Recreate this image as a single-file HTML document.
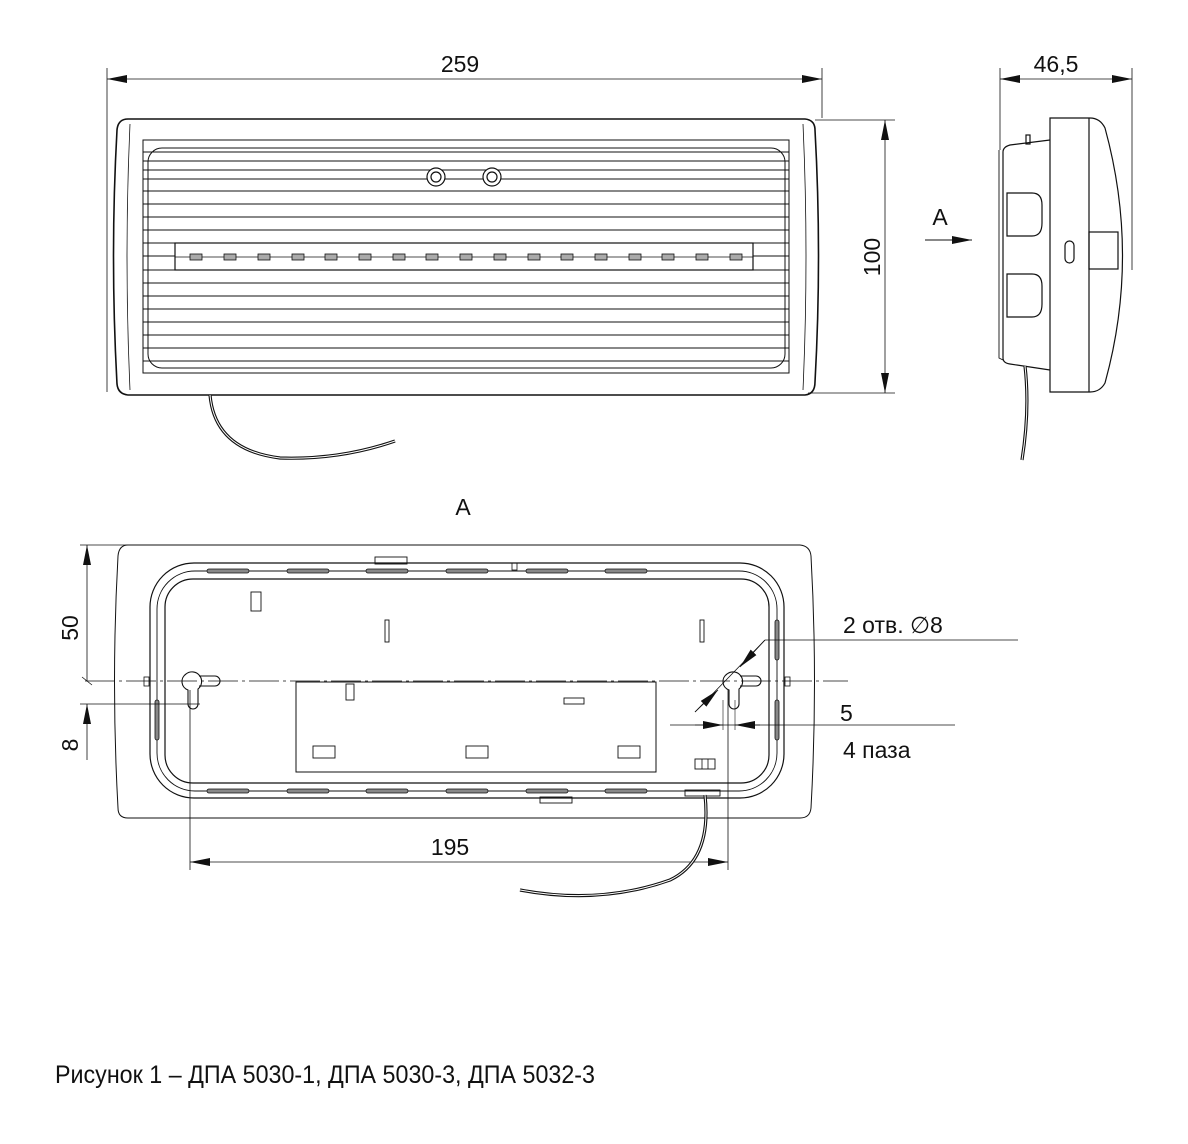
<!DOCTYPE html>
<html><head><meta charset="utf-8"><style>html,body{margin:0;padding:0;background:#fff}svg{display:block}</style></head>
<body>
<svg width="1188" height="1144" viewBox="0 0 1188 1144" xmlns="http://www.w3.org/2000/svg" font-family="Liberation Sans, sans-serif" fill="none" stroke="#111" stroke-width="1.2">
<defs>
<marker id="ar" viewBox="0 0 20 8" refX="20" refY="4" markerWidth="20" markerHeight="8" orient="auto-start-reverse" markerUnits="userSpaceOnUse"><path d="M0,0 L20,4 L0,8z" fill="#111" stroke="none"/></marker>
</defs>
<!-- FRONT VIEW -->
<line x1="107" y1="68" x2="107" y2="392" stroke-width="0.8"/>
<line x1="822" y1="68" x2="822" y2="118" stroke-width="0.8"/>
<line x1="107" y1="79" x2="822" y2="79" stroke-width="0.8" marker-start="url(#ar)" marker-end="url(#ar)"/>
<text x="460" y="72" font-size="23" fill="#111" stroke="none" text-anchor="middle">259</text>
<line x1="815" y1="120" x2="895" y2="120" stroke-width="0.8"/>
<line x1="808" y1="393" x2="895" y2="393" stroke-width="0.8"/>
<line x1="885" y1="120" x2="885" y2="393" stroke-width="0.8" marker-start="url(#ar)" marker-end="url(#ar)"/>
<text x="0" y="0" font-size="23" fill="#111" stroke="none" text-anchor="middle" transform="translate(880,257) rotate(-90)">100</text>
<path d="M128,119 L805,119 Q815,120 815,130 Q822,256 815,382 Q815,394 805,395 L128,395 Q118,394 117,384 Q110,256 117,130 Q118,119 128,119Z" stroke-width="1.6"/>
<path d="M130,124 Q124,256 130,390 M803,124 Q809,256 803,390" stroke-width="0.8"/>
<rect x="143" y="140" width="646" height="233" stroke-width="1"/>
<rect x="148" y="148" width="637" height="220" rx="14" stroke-width="1"/>
<g stroke-width="0.9">
<path d="M143,152H789M143,161H789M143,170H789M143,179H789M143,191H789M143,204H789M143,217H789M143,230H789M143,243H789M143,256H789M143,270H789M143,283H789M143,296H789M143,309H789M143,322H789M143,335H789M143,348H789M143,361H789"/>
</g>
<rect x="175" y="243" width="578" height="27" fill="#fff" stroke-width="1.2"/>
<line x1="175" y1="257" x2="753" y2="257" stroke-width="0.8"/>
<g fill="#aaa" stroke-width="0.8">
<rect x="190" y="254" width="12" height="6"/><rect x="224" y="254" width="12" height="6"/><rect x="258" y="254" width="12" height="6"/><rect x="292" y="254" width="12" height="6"/><rect x="325" y="254" width="12" height="6"/><rect x="359" y="254" width="12" height="6"/><rect x="393" y="254" width="12" height="6"/><rect x="426" y="254" width="12" height="6"/><rect x="460" y="254" width="12" height="6"/><rect x="494" y="254" width="12" height="6"/><rect x="528" y="254" width="12" height="6"/><rect x="561" y="254" width="12" height="6"/><rect x="595" y="254" width="12" height="6"/><rect x="629" y="254" width="12" height="6"/><rect x="662" y="254" width="12" height="6"/><rect x="696" y="254" width="12" height="6"/><rect x="730" y="254" width="12" height="6"/>
</g>
<circle cx="436" cy="177" r="9" fill="#fff"/><circle cx="436" cy="177" r="5"/>
<circle cx="492" cy="177" r="9" fill="#fff"/><circle cx="492" cy="177" r="5"/>
<path d="M210,395 Q215,450 280,458 Q340,460 395,441" stroke-width="3.2"/>
<path d="M210,395 Q215,450 280,458 Q340,460 395,441" stroke="#fff" stroke-width="1"/>
<!-- SIDE VIEW -->
<line x1="1000" y1="68" x2="1000" y2="150" stroke-width="0.8"/>
<line x1="1132" y1="68" x2="1132" y2="270" stroke-width="0.8"/>
<line x1="1000" y1="79" x2="1132" y2="79" stroke-width="0.8" marker-start="url(#ar)" marker-end="url(#ar)"/>
<text x="1056" y="72" font-size="23" fill="#111" stroke="none" text-anchor="middle">46,5</text>
<text x="940" y="225" font-size="23" fill="#111" stroke="none" text-anchor="middle">A</text>
<line x1="925" y1="240" x2="972" y2="240" stroke-width="0.9" marker-end="url(#ar)"/>
<path d="M1050,118 L1090,118 Q1100,118 1105,128 Q1140,256 1105,383 Q1100,392 1090,392 L1050,392Z" stroke-width="1.2"/>
<line x1="1089" y1="118" x2="1089" y2="392"/>
<path d="M1050,140 L1010,145 Q1003,147 1003,152 L1003,358 Q1003,363 1010,364 L1050,370"/>
<path d="M999,150 L999,358 L1003,360" stroke-width="0.9"/>
<rect x="1026" y="135" width="4" height="9"/>
<path d="M1007,193 L1032,193 Q1042,193 1042,205 L1042,223 Q1042,236 1032,236 L1007,236Z"/>
<path d="M1007,274 L1032,274 Q1042,274 1042,286 L1042,304 Q1042,317 1032,317 L1007,317Z"/>
<rect x="1065" y="241" width="9" height="22" rx="4.5"/>
<rect x="1089" y="232" width="29" height="37"/>
<path d="M1025,366 Q1030,410 1022,460" stroke-width="3.2"/>
<path d="M1025,366 Q1030,410 1022,460" stroke="#fff" stroke-width="1"/>
<!-- VIEW A -->
<text x="463" y="515" font-size="23" fill="#111" stroke="none" text-anchor="middle">A</text>
<path d="M128,545 L800,545 Q810,546 811,556 Q818,682 811,808 Q810,818 800,818 L128,818 Q118,818 118,808 Q111,682 118,556 Q119,545 128,545Z" stroke-width="1"/>
<rect x="150" y="563" width="634" height="235" rx="44" stroke-width="1.2"/>
<rect x="157" y="571" width="620" height="220" rx="38" stroke-width="0.9"/>
<rect x="165" y="579" width="604" height="204" rx="28" stroke-width="1.2"/>
<g fill="#888" stroke-width="0.8">
<rect x="207" y="569" width="42" height="4" rx="2"/><rect x="287" y="569" width="42" height="4" rx="2"/><rect x="366" y="569" width="42" height="4" rx="2"/><rect x="446" y="569" width="42" height="4" rx="2"/><rect x="526" y="569" width="42" height="4" rx="2"/><rect x="605" y="569" width="42" height="4" rx="2"/>
<rect x="207" y="789" width="42" height="4" rx="2"/><rect x="287" y="789" width="42" height="4" rx="2"/><rect x="366" y="789" width="42" height="4" rx="2"/><rect x="446" y="789" width="42" height="4" rx="2"/><rect x="526" y="789" width="42" height="4" rx="2"/><rect x="605" y="789" width="42" height="4" rx="2"/>
<rect x="155" y="700" width="4" height="40" rx="2"/><rect x="775" y="620" width="4" height="40" rx="2"/><rect x="775" y="700" width="4" height="40" rx="2"/>
</g>
<rect x="375" y="557" width="32" height="7" stroke-width="0.9"/>
<rect x="512" y="563" width="5" height="7" stroke-width="0.8"/>
<rect x="540" y="797" width="32" height="6" stroke-width="0.9"/>
<rect x="685" y="790" width="35" height="6" stroke-width="0.9"/>
<rect x="144" y="677" width="5" height="9" stroke-width="0.8"/>
<rect x="785" y="677" width="5" height="9" stroke-width="0.8"/>
<rect x="251" y="592" width="10" height="19" stroke-width="0.9"/>
<rect x="385" y="620" width="4" height="22" stroke-width="0.9"/>
<rect x="700" y="620" width="4" height="22" stroke-width="0.9"/>
<rect x="296" y="682" width="360" height="90" fill="#fff" stroke-width="1"/>
<rect x="346" y="684" width="8" height="16" stroke-width="0.9"/>
<rect x="564" y="698" width="20" height="6" stroke-width="0.9"/>
<rect x="313" y="746" width="22" height="12" stroke-width="0.9"/>
<rect x="466" y="746" width="22" height="12" stroke-width="0.9"/>
<rect x="618" y="746" width="22" height="12" stroke-width="0.9"/>
<rect x="695" y="759" width="20" height="10" stroke-width="0.9"/><path d="M702,759V769M708,759V769" stroke-width="0.8"/>
<line x1="85" y1="681" x2="848" y2="681" stroke-width="0.8" stroke-dasharray="30,4,3,4"/>
<path d="M186,674 A9,9 0 1 1 198,689 L198,704 A5,5 0 0 1 188,704 L188,690 A9,9 0 0 1 186,674Z M199,676 L215,676 A5,5 0 0 1 215,686 L199,686" stroke-width="1.1"/>
<path d="M727,674 A9,9 0 1 1 739,689 L739,704 A5,5 0 0 1 729,704 L729,690 A9,9 0 0 1 727,674Z M740,676 L756,676 A5,5 0 0 1 756,686 L740,686" stroke-width="1.1"/>
<line x1="190" y1="690" x2="190" y2="870" stroke-width="0.8"/>
<line x1="728" y1="690" x2="728" y2="870" stroke-width="0.8"/>
<line x1="190" y1="862" x2="728" y2="862" stroke-width="0.8" marker-start="url(#ar)" marker-end="url(#ar)"/>
<text x="450" y="855" font-size="23" fill="#111" stroke="none" text-anchor="middle">195</text>
<line x1="80" y1="545" x2="128" y2="545" stroke-width="0.8"/>
<line x1="80" y1="704" x2="200" y2="704" stroke-width="0.8"/>
<line x1="87" y1="545" x2="87" y2="681" stroke-width="0.8" marker-start="url(#ar)"/>
<line x1="87" y1="760" x2="87" y2="704" stroke-width="0.8" marker-end="url(#ar)"/>
<line x1="82" y1="677" x2="92" y2="685" stroke-width="0.8"/>
<text x="0" y="0" font-size="23" fill="#111" stroke="none" text-anchor="middle" transform="translate(78,628) rotate(-90)">50</text>
<text x="0" y="0" font-size="23" fill="#111" stroke="none" text-anchor="middle" transform="translate(78,745) rotate(-90)">8</text>
<line x1="765" y1="640" x2="1018" y2="640" stroke-width="0.8"/>
<line x1="765" y1="640" x2="695" y2="712" stroke-width="0.8"/>
<line x1="765" y1="640" x2="740" y2="667" stroke-width="0.8" marker-end="url(#ar)"/>
<line x1="695" y1="712" x2="718" y2="690" stroke-width="0.8" marker-end="url(#ar)"/>
<text x="843" y="633" font-size="23" fill="#111" stroke="none">2 отв. ∅8</text>
<line x1="670" y1="725" x2="955" y2="725" stroke-width="0.8"/>
<line x1="695" y1="725" x2="723" y2="725" stroke-width="0.8" marker-end="url(#ar)"/>
<line x1="760" y1="725" x2="735" y2="725" stroke-width="0.8" marker-end="url(#ar)"/>
<line x1="723" y1="700" x2="723" y2="730" stroke-width="0.6"/><line x1="735" y1="700" x2="735" y2="730" stroke-width="0.6"/>
<text x="840" y="721" font-size="23" fill="#111" stroke="none">5</text>
<text x="843" y="758" font-size="23" fill="#111" stroke="none">4 паза</text>
<path d="M705,795 Q712,860 670,880 Q600,905 520,890" stroke-width="3.2"/>
<path d="M705,795 Q712,860 670,880 Q600,905 520,890" stroke="#fff" stroke-width="1"/>
<text x="55" y="1083" font-size="25" fill="#111" stroke="none" textLength="540" lengthAdjust="spacingAndGlyphs">Рисунок 1 – ДПА 5030-1, ДПА 5030-3, ДПА 5032-3</text>
</svg>
</body></html>
